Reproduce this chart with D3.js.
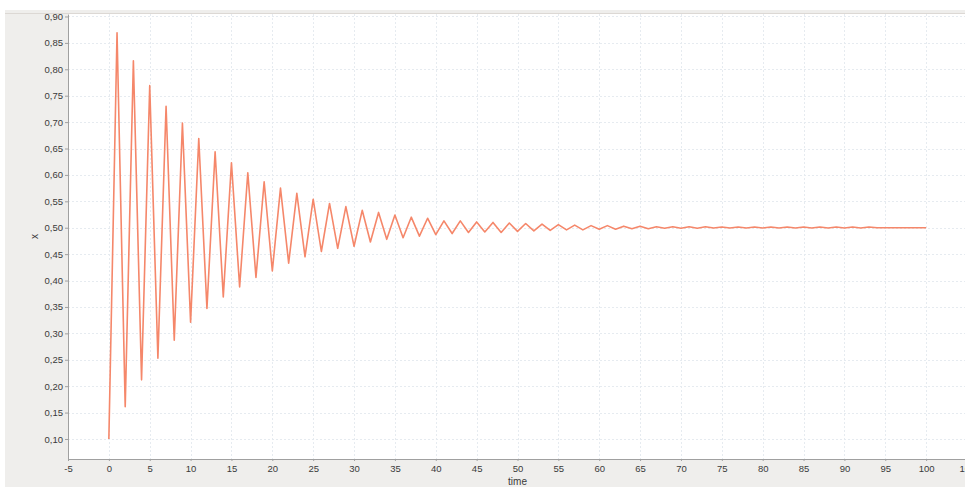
<!DOCTYPE html>
<html>
<head>
<meta charset="utf-8">
<script src="https://cdn.jsdelivr.net/npm/d3@7"></script>
<style>
  html, body { margin: 0; padding: 0; background: #ffffff; }
  svg { display: block; }
  text { font-family: "Liberation Sans", Arial, sans-serif; }
</style>
</head>
<body>
<svg id="chart" width="965" height="487"></svg>
<script>
// Damped oscillation of x over time, sampled once per time unit
const time = d3.range(0, 101);
const xValues = [
  0.100, 0.869, 0.161, 0.816, 0.212, 0.769, 0.253, 0.730, 0.287, 0.698,
  0.321, 0.669, 0.347, 0.644, 0.369, 0.623, 0.388, 0.604, 0.406, 0.587,
  0.418, 0.575, 0.433, 0.565, 0.445, 0.554, 0.455, 0.546, 0.461, 0.540,
  0.465, 0.533, 0.473, 0.529, 0.478, 0.524, 0.481, 0.520, 0.484, 0.518,
  0.487, 0.513, 0.489, 0.513, 0.491, 0.511, 0.492, 0.510, 0.491, 0.509,
  0.493, 0.508, 0.494, 0.507, 0.495, 0.506, 0.496, 0.505, 0.496, 0.504,
  0.497, 0.504, 0.497, 0.503, 0.498, 0.503, 0.498, 0.502, 0.499, 0.502,
  0.499, 0.502, 0.499, 0.502, 0.4995, 0.5015, 0.4995, 0.5015, 0.4995, 0.5015,
  0.4995, 0.5015, 0.4995, 0.5015, 0.4995, 0.5015, 0.4995, 0.5015, 0.4995, 0.5015,
  0.4995, 0.5015, 0.4995, 0.5015, 0.500, 0.500, 0.500, 0.500, 0.500, 0.500,
  0.500
];
const xTickValues = d3.range(-5, 106, 5);
const yTickValues = d3.range(0.10, 0.9001, 0.05);
const xAxisTitle = "time";
const yAxisTitle = "x";

const svg = d3.select("#chart");
const W = 965, H = 487;
const plot = { left: 68, top: 14, right: 967, bottom: 459 };

const x = d3.scaleLinear().domain([-5, 105]).range([plot.left, plot.right]);
const y = d3.scaleLinear().domain([0.0621, 0.9047]).range([plot.bottom, plot.top]);

// outer panel
svg.append("rect").attr("x", 0).attr("y", 0).attr("width", W).attr("height", H).attr("fill", "#ffffff");
svg.append("rect").attr("x", 5).attr("y", 10).attr("width", W - 5).attr("height", H - 10).attr("fill", "#efeeec");
svg.append("line").attr("x1", 5).attr("x2", W).attr("y1", 13.5).attr("y2", 13.5)
  .attr("stroke", "#dcd8d4").attr("stroke-width", 1);

// plot background
svg.append("rect")
  .attr("x", plot.left).attr("y", plot.top)
  .attr("width", plot.right - plot.left).attr("height", plot.bottom - plot.top)
  .attr("fill", "#ffffff");

// grid
const grid = svg.append("g").attr("stroke", "#e6ebf0").attr("stroke-width", 1).attr("stroke-dasharray", "2,2");
grid.selectAll("line.v").data(xTickValues.filter(d => d > -5)).join("line")
  .attr("class", "v")
  .attr("x1", d => Math.round(x(d)) + 0.5).attr("x2", d => Math.round(x(d)) + 0.5)
  .attr("y1", plot.top).attr("y2", plot.bottom);
grid.selectAll("line.h").data(yTickValues).join("line")
  .attr("class", "h")
  .attr("x1", plot.left).attr("x2", plot.right)
  .attr("y1", d => Math.round(y(d)) + 0.5).attr("y2", d => Math.round(y(d)) + 0.5);

// series
const pts = time.map((t, i) => [t, xValues[i]]);
const line = d3.line().x(d => x(d[0])).y(d => y(d[1])).curve(d3.curveLinear);
svg.append("clipPath").attr("id", "plotclip").append("rect")
  .attr("x", plot.left).attr("y", plot.top)
  .attr("width", plot.right - plot.left).attr("height", plot.bottom - plot.top);
svg.append("path")
  .datum(pts)
  .attr("clip-path", "url(#plotclip)")
  .attr("fill", "none")
  .attr("stroke", "#f5876a")
  .attr("stroke-width", 1.6)
  .attr("stroke-linejoin", "round")
  .attr("d", line);

// axes
const fmtY = d => d3.format(".2f")(d).replace(".", ",");
const fmtX = d => String(d);
const yAxis = svg.append("g")
  .attr("transform", `translate(${plot.left},0)`)
  .call(d3.axisLeft(y).tickValues(yTickValues).tickFormat(fmtY).tickSizeInner(3).tickSizeOuter(0).tickPadding(2));
const xAxis = svg.append("g")
  .attr("transform", `translate(0,${plot.bottom})`)
  .call(d3.axisBottom(x).tickValues(xTickValues).tickFormat(fmtX).tickSizeInner(2).tickSizeOuter(0).tickPadding(4));

[yAxis, xAxis].forEach(g => {
  g.select(".domain").attr("stroke", "#a0a0a0");
  g.selectAll(".tick line").attr("stroke", "#a0a0a0");
  g.selectAll(".tick text")
    .attr("fill", "#3a3a3a")
    .style("font-family", "\"Liberation Sans\", Arial, sans-serif")
    .style("font-size", "9.5px");
});

// axis titles
svg.append("text")
  .attr("x", (plot.left + plot.right) / 2)
  .attr("y", 485)
  .attr("text-anchor", "middle")
  .attr("fill", "#3a3a3a")
  .style("font-size", "10px")
  .text(xAxisTitle);
svg.append("text")
  .attr("transform", `translate(38,${(plot.top + plot.bottom) / 2}) rotate(-90)`)
  .attr("text-anchor", "middle")
  .attr("fill", "#3a3a3a")
  .style("font-size", "10px")
  .text(yAxisTitle);
</script>
</body>
</html>
